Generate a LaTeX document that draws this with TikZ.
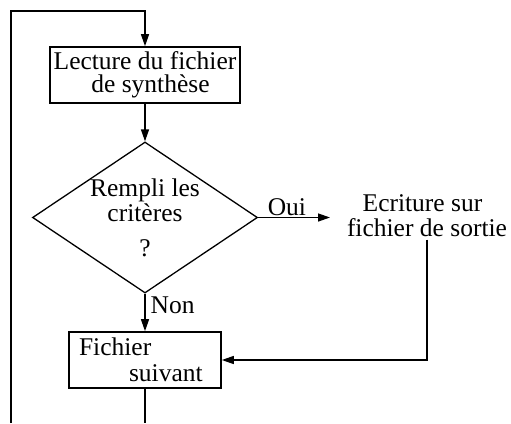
\documentclass[tikz,border=0pt]{standalone}
\usepackage{fontspec}
\setmainfont{Liberation Serif}
\usetikzlibrary{shapes.geometric,arrows.meta,positioning}

\begin{document}
\begin{tikzpicture}[
			x=1pt, y=-1pt,
			>={Triangle[length=12pt,width=8pt]},
			line width=1.3pt,
			box/.style={
				draw,
				line width=1.6pt,
				align=center,
				minimum width=190pt,
				minimum height=56pt,
				inner sep=2pt,
				font=\fontsize{25.5}{23.5}\selectfont
			},
			smallbox/.style={
				draw,
				line width=1.6pt,
				align=left,
				text width=132pt,
				inner xsep=10pt,
				minimum width=152pt,
				minimum height=56pt,
				font=\fontsize{25.5}{26}\selectfont
			},
			decision/.style={
				draw,
				diamond,
				aspect=1.5,
				align=center,
				inner sep=-15pt,
				minimum width=225pt,
				minimum height=151pt,
				font=\fontsize{25.5}{25}\selectfont
			},
			txt/.style={
				align=center,
				inner sep=2pt,
				font=\fontsize{25.5}{25}\selectfont
			}
			]
			
			\useasboundingbox (0,0) rectangle (511,423);
			
			\node[box] (lecture) at (145,75)
			{Lecture du fichier\\\hspace*{11pt}de synthèse};
			
			\node[decision] (rempli) at (145,217.5)
			{Rempli les\\critères\\[10pt]?};
			
			\node[txt] (ecriture) at (427,216)
			{Ecriture sur\hspace*{9pt}\\fichier de sortie};
			
			\node[smallbox] (suivant) at (145,360)
			{Fichier\\\hspace*{50pt}suivant};
			
			\coordinate (ouiend) at (330,217.5);
			\coordinate (bas) at (145,423);
			\coordinate (basgauche) at (11,423);
			\coordinate (hautgauche) at (11,11);
			
			\draw[->] (lecture.south) -- (rempli.north);
			\draw[->] (rempli.east) -- node[txt,above,pos=0.4,inner sep=1pt] {Oui} (ouiend);
			\draw[->] (rempli.south) -- node[txt,right,pos=0.3,inner sep=5pt] {Non} (suivant.north);
			\draw[->] (ecriture.south) |- (suivant.east);
			\draw (suivant.south) -- (bas);
			\draw[->] (basgauche) -- (hautgauche) -| (lecture.north);
			
		\end{tikzpicture}
\end{document}
